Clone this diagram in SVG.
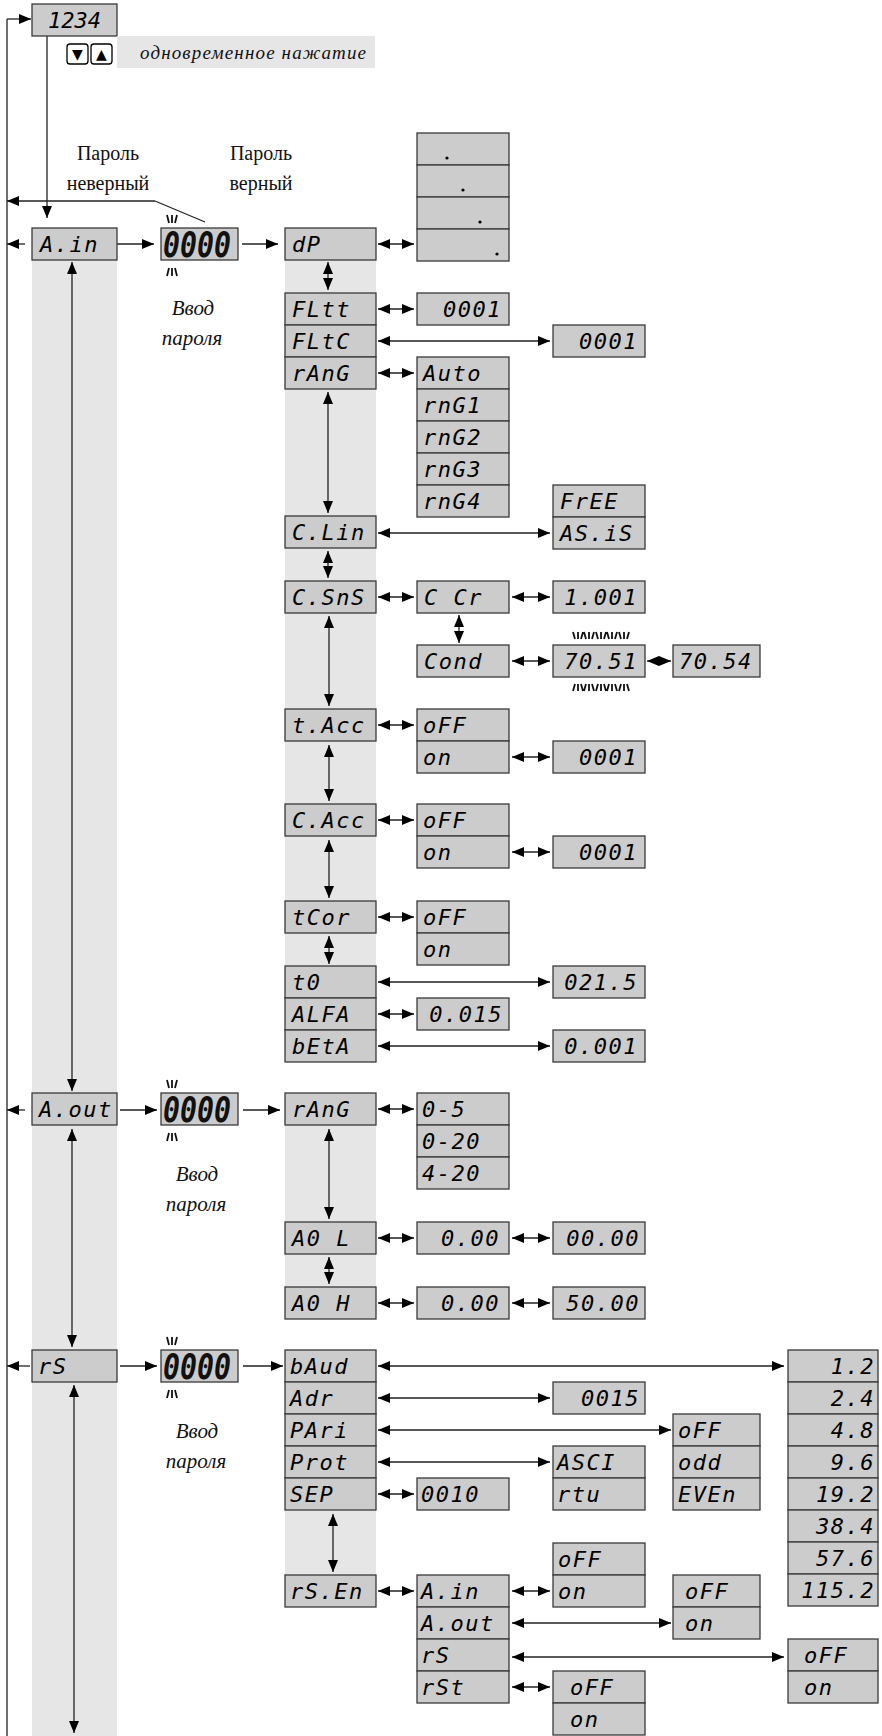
<svg xmlns="http://www.w3.org/2000/svg" width="882" height="1736" viewBox="0 0 882 1736">
<defs>
<marker id="a" viewBox="0 0 12 10" refX="12" refY="5" markerWidth="12" markerHeight="10" markerUnits="userSpaceOnUse" orient="auto-start-reverse"><path d="M0,0 L12,5 L0,10 z" fill="#000"/></marker>
</defs>
<style>
.b{fill:#cccccc;stroke:#3a3a3a;stroke-width:1.3}
.col{fill:#e6e6e6}
.t{font-family:"DejaVu Sans Mono",monospace;font-size:22px;font-style:oblique;letter-spacing:1.5px;fill:#000}
.r{text-anchor:end}
.pw{font-family:"DejaVu Sans Mono",monospace;font-size:36px;font-weight:bold;font-style:oblique;fill:#111}
.ln{stroke:#222;stroke-width:1.3;fill:none}
.fl{stroke:#111;stroke-width:1.8;fill:none}
.s{font-family:"Liberation Serif",serif;font-size:20px;fill:#111;text-anchor:middle}
.si{font-family:"Liberation Serif",serif;font-size:21px;font-style:italic;fill:#111;text-anchor:middle}
.k{fill:#fff;stroke:#000;stroke-width:1.3}
.kt{font-family:"DejaVu Sans",sans-serif;font-size:14px;fill:#000;text-anchor:middle}
.dot{fill:#000}
</style>
<rect width="882" height="1736" fill="#fff"/>
<g id="columns">
<rect class="col" x="32" y="228" width="85" height="1508"/>
<rect class="col" x="285" y="260" width="91" height="706"/>
<rect class="col" x="285" y="1125" width="91" height="162"/>
<rect class="col" x="285" y="1510" width="91" height="65"/>
</g>
<g id="connectors">
<line class="ln" x1="7" y1="1736" x2="7" y2="19"/>
<line class="ln" x1="7" y1="19" x2="31" y2="19" marker-end="url(#a)"/>
<line class="ln" x1="47" y1="36" x2="47" y2="218" marker-end="url(#a)"/>
<line class="ln" x1="155" y1="201" x2="7" y2="201" marker-end="url(#a)"/>
<line class="ln" x1="155" y1="201" x2="205" y2="222"/>
<line class="ln" x1="25" y1="244" x2="7" y2="244" marker-end="url(#a)"/>
<line class="ln" x1="117" y1="244" x2="154" y2="244" marker-end="url(#a)"/>
<line class="ln" x1="242" y1="244" x2="278" y2="244" marker-end="url(#a)"/>
<line class="ln" x1="72" y1="262" x2="72" y2="1091" marker-start="url(#a)" marker-end="url(#a)"/>
<line class="ln" x1="378" y1="244" x2="414" y2="244" marker-start="url(#a)" marker-end="url(#a)"/>
<line class="ln" x1="328" y1="262" x2="328" y2="290" marker-start="url(#a)" marker-end="url(#a)"/>
<line class="ln" x1="378" y1="309" x2="414" y2="309" marker-start="url(#a)" marker-end="url(#a)"/>
<line class="ln" x1="378" y1="341" x2="550" y2="341" marker-start="url(#a)" marker-end="url(#a)"/>
<line class="ln" x1="378" y1="373" x2="414" y2="373" marker-start="url(#a)" marker-end="url(#a)"/>
<line class="ln" x1="328" y1="392" x2="328" y2="513" marker-start="url(#a)" marker-end="url(#a)"/>
<line class="ln" x1="378" y1="533" x2="550" y2="533" marker-start="url(#a)" marker-end="url(#a)"/>
<line class="ln" x1="328" y1="551" x2="328" y2="578" marker-start="url(#a)" marker-end="url(#a)"/>
<line class="ln" x1="378" y1="597" x2="414" y2="597" marker-start="url(#a)" marker-end="url(#a)"/>
<line class="ln" x1="512" y1="597" x2="550" y2="597" marker-start="url(#a)" marker-end="url(#a)"/>
<line class="ln" x1="459" y1="615" x2="459" y2="643" marker-start="url(#a)" marker-end="url(#a)"/>
<line class="ln" x1="512" y1="661" x2="550" y2="661" marker-start="url(#a)" marker-end="url(#a)"/>
<line class="ln" x1="647" y1="661" x2="671" y2="661" marker-start="url(#a)" marker-end="url(#a)"/>
<line class="ln" x1="329" y1="616" x2="329" y2="706" marker-start="url(#a)" marker-end="url(#a)"/>
<line class="ln" x1="378" y1="725" x2="414" y2="725" marker-start="url(#a)" marker-end="url(#a)"/>
<line class="ln" x1="512" y1="757" x2="550" y2="757" marker-start="url(#a)" marker-end="url(#a)"/>
<line class="ln" x1="329" y1="745" x2="329" y2="801" marker-start="url(#a)" marker-end="url(#a)"/>
<line class="ln" x1="378" y1="820" x2="414" y2="820" marker-start="url(#a)" marker-end="url(#a)"/>
<line class="ln" x1="512" y1="852" x2="550" y2="852" marker-start="url(#a)" marker-end="url(#a)"/>
<line class="ln" x1="329" y1="840" x2="329" y2="898" marker-start="url(#a)" marker-end="url(#a)"/>
<line class="ln" x1="378" y1="917" x2="414" y2="917" marker-start="url(#a)" marker-end="url(#a)"/>
<line class="ln" x1="329" y1="936" x2="329" y2="964" marker-start="url(#a)" marker-end="url(#a)"/>
<line class="ln" x1="378" y1="982" x2="550" y2="982" marker-start="url(#a)" marker-end="url(#a)"/>
<line class="ln" x1="378" y1="1014" x2="414" y2="1014" marker-start="url(#a)" marker-end="url(#a)"/>
<line class="ln" x1="378" y1="1046" x2="550" y2="1046" marker-start="url(#a)" marker-end="url(#a)"/>
<line class="ln" x1="25" y1="1110" x2="7" y2="1110" marker-end="url(#a)"/>
<line class="ln" x1="120" y1="1110" x2="157" y2="1110" marker-end="url(#a)"/>
<line class="ln" x1="243" y1="1110" x2="280" y2="1110" marker-end="url(#a)"/>
<line class="ln" x1="72" y1="1129" x2="72" y2="1347" marker-start="url(#a)" marker-end="url(#a)"/>
<line class="ln" x1="378" y1="1109" x2="414" y2="1109" marker-start="url(#a)" marker-end="url(#a)"/>
<line class="ln" x1="329" y1="1129" x2="329" y2="1219" marker-start="url(#a)" marker-end="url(#a)"/>
<line class="ln" x1="378" y1="1238" x2="414" y2="1238" marker-start="url(#a)" marker-end="url(#a)"/>
<line class="ln" x1="512" y1="1238" x2="550" y2="1238" marker-start="url(#a)" marker-end="url(#a)"/>
<line class="ln" x1="329" y1="1257" x2="329" y2="1284" marker-start="url(#a)" marker-end="url(#a)"/>
<line class="ln" x1="378" y1="1303" x2="414" y2="1303" marker-start="url(#a)" marker-end="url(#a)"/>
<line class="ln" x1="512" y1="1303" x2="550" y2="1303" marker-start="url(#a)" marker-end="url(#a)"/>
<line class="ln" x1="30" y1="1366" x2="7" y2="1366" marker-end="url(#a)"/>
<line class="ln" x1="120" y1="1366" x2="157" y2="1366" marker-end="url(#a)"/>
<line class="ln" x1="243" y1="1366" x2="283" y2="1366" marker-end="url(#a)"/>
<line class="ln" x1="74" y1="1385" x2="74" y2="1733" marker-start="url(#a)" marker-end="url(#a)"/>
<line class="ln" x1="378" y1="1366" x2="784" y2="1366" marker-start="url(#a)" marker-end="url(#a)"/>
<line class="ln" x1="378" y1="1398" x2="550" y2="1398" marker-start="url(#a)" marker-end="url(#a)"/>
<line class="ln" x1="378" y1="1430" x2="671" y2="1430" marker-start="url(#a)" marker-end="url(#a)"/>
<line class="ln" x1="378" y1="1462" x2="550" y2="1462" marker-start="url(#a)" marker-end="url(#a)"/>
<line class="ln" x1="378" y1="1494" x2="414" y2="1494" marker-start="url(#a)" marker-end="url(#a)"/>
<line class="ln" x1="333" y1="1514" x2="333" y2="1572" marker-start="url(#a)" marker-end="url(#a)"/>
<line class="ln" x1="378" y1="1591" x2="414" y2="1591" marker-start="url(#a)" marker-end="url(#a)"/>
<line class="ln" x1="512" y1="1591" x2="550" y2="1591" marker-start="url(#a)" marker-end="url(#a)"/>
<line class="ln" x1="512" y1="1623" x2="671" y2="1623" marker-start="url(#a)" marker-end="url(#a)"/>
<line class="ln" x1="512" y1="1657" x2="784" y2="1657" marker-start="url(#a)" marker-end="url(#a)"/>
<line class="ln" x1="512" y1="1687" x2="550" y2="1687" marker-start="url(#a)" marker-end="url(#a)"/>
</g>
<g id="flash">
<path class="fl" d="M167,215 L169,223 M172,215 V223 M177,215 L175,223 M169,268 L167,276 M172,268 V276 M175,268 L177,276"/>
<path class="fl" d="M167,1080 L169,1088 M172,1080 V1088 M177,1080 L175,1088 M169,1133 L167,1141 M172,1133 V1141 M175,1133 L177,1141"/>
<path class="fl" d="M167,1337 L169,1345 M172,1337 V1345 M177,1337 L175,1345 M169,1390 L167,1398 M172,1390 V1398 M175,1390 L177,1398"/>
<path class="fl" d="M573,632 L575,639 M578,632 V639 M583,632 L581,639 M584,632 L586,639 M589,632 V639 M594,632 L592,639 M596,632 L598,639 M601,632 V639 M606,632 L604,639 M607,632 L609,639 M612,632 V639 M617,632 L615,639 M619,632 L621,639 M624,632 V639 M629,632 L627,639"/>
<path class="fl" d="M575,684 L573,691 M578,684 V691 M581,684 L583,691 M586,684 L584,691 M589,684 V691 M592,684 L594,691 M598,684 L596,691 M601,684 V691 M604,684 L606,691 M609,684 L607,691 M612,684 V691 M615,684 L617,691 M621,684 L619,691 M624,684 V691 M627,684 L629,691"/>
</g>
<g id="n1234"><rect class="b" x="32" y="4" width="85" height="32"/><text class="t" style="letter-spacing:0" x="48" y="28">1234</text></g>
<g id="keys"><rect class="k" x="67" y="44" width="21" height="20" rx="3"/><text class="kt" x="77.5" y="59">▼</text><rect class="k" x="91" y="44" width="21" height="20" rx="3"/><text class="kt" x="101.5" y="59">▲</text></g>
<g id="hint"><rect class="col" x="117" y="36" width="258" height="32"/><text class="si" style="font-size:19px" x="253" y="59" textLength="226" lengthAdjust="spacing">одновременное нажатие</text></g>
<g id="lbl-wrong"><text class="s" x="108" y="160">Пароль</text><text class="s" x="108" y="190">неверный</text></g>
<g id="lbl-right"><text class="s" x="261" y="160">Пароль</text><text class="s" x="261" y="190">верный</text></g>

<g id="ain"><rect class="b" x="32" y="228" width="85" height="32"/><text class="t" x="40" y="252">A.in</text></g>
<g id="pw1"><rect class="b" x="161" y="228" width="77" height="32"/><text class="pw" x="163" y="257" textLength="68" lengthAdjust="spacingAndGlyphs">0000</text></g>
<g id="enter1"><text class="si" x="193" y="315">Ввод</text><text class="si" x="192" y="345">пароля</text></g>
<g id="dP"><rect class="b" x="285" y="228" width="91" height="32"/><text class="t" x="292" y="252">dP</text></g>
<g id="dp-list"><rect class="b" x="417" y="133" width="92" height="32"/><rect class="b" x="417" y="165" width="92" height="32"/><rect class="b" x="417" y="197" width="92" height="32"/><rect class="b" x="417" y="229" width="92" height="32"/><circle class="dot" cx="447" cy="158" r="1.6"/><circle class="dot" cx="463" cy="190" r="1.6"/><circle class="dot" cx="480" cy="222" r="1.6"/><circle class="dot" cx="497" cy="254" r="1.6"/></g>
<g id="fltt"><rect class="b" x="285" y="293" width="91" height="32"/><text class="t" x="292" y="317">FLtt</text></g>
<g id="fltc"><rect class="b" x="285" y="325" width="91" height="32"/><text class="t" x="292" y="349">FLtC</text></g>
<g id="rang"><rect class="b" x="285" y="357" width="91" height="32"/><text class="t" x="292" y="381">rAnG</text></g>
<g id="fltt-val"><rect class="b" x="417" y="293" width="92" height="32"/><text class="t r" x="502" y="317">0001</text></g>
<g id="fltc-val"><rect class="b" x="553" y="325" width="92" height="32"/><text class="t r" x="638" y="349">0001</text></g>
<g id="rang-list"><rect class="b" x="417" y="357" width="92" height="32"/><text class="t" x="423" y="381">Auto</text><rect class="b" x="417" y="389" width="92" height="32"/><text class="t" x="423" y="413">rnG1</text><rect class="b" x="417" y="421" width="92" height="32"/><text class="t" x="423" y="445">rnG2</text><rect class="b" x="417" y="453" width="92" height="32"/><text class="t" x="423" y="477">rnG3</text><rect class="b" x="417" y="485" width="92" height="32"/><text class="t" x="423" y="509">rnG4</text></g>
<g id="clin"><rect class="b" x="285" y="516" width="91" height="32"/><text class="t" x="292" y="540">C.Lin</text></g>
<g id="clin-list"><rect class="b" x="553" y="485" width="92" height="32"/><text class="t" x="560" y="509">FrEE</text><rect class="b" x="553" y="517" width="92" height="32"/><text class="t" x="560" y="541">AS.iS</text></g>
<g id="csns"><rect class="b" x="285" y="581" width="91" height="32"/><text class="t" x="292" y="605">C.SnS</text></g>
<g id="ccr"><rect class="b" x="417" y="581" width="92" height="32"/><text class="t" x="424" y="605">C Cr</text></g>
<g id="ccr-val"><rect class="b" x="553" y="581" width="92" height="32"/><text class="t r" x="638" y="605">1.001</text></g>
<g id="cond"><rect class="b" x="417" y="645" width="92" height="32"/><text class="t" x="424" y="669">Cond</text></g>
<g id="cond-val"><rect class="b" x="553" y="645" width="92" height="32"/><text class="t r" x="638" y="669">70.51</text></g>
<g id="cond-new"><rect class="b" x="673" y="645" width="87" height="32"/><text class="t" x="679" y="669">70.54</text></g>
<g id="tacc"><rect class="b" x="285" y="709" width="91" height="32"/><text class="t" x="292" y="733">t.Acc</text></g>
<g id="tacc-list"><rect class="b" x="417" y="709" width="92" height="32"/><text class="t" x="423" y="733">oFF</text><rect class="b" x="417" y="741" width="92" height="32"/><text class="t" x="423" y="765">on</text></g>
<g id="tacc-val"><rect class="b" x="553" y="741" width="92" height="32"/><text class="t r" x="638" y="765">0001</text></g>
<g id="cacc"><rect class="b" x="285" y="804" width="91" height="32"/><text class="t" x="292" y="828">C.Acc</text></g>
<g id="cacc-list"><rect class="b" x="417" y="804" width="92" height="32"/><text class="t" x="423" y="828">oFF</text><rect class="b" x="417" y="836" width="92" height="32"/><text class="t" x="423" y="860">on</text></g>
<g id="cacc-val"><rect class="b" x="553" y="836" width="92" height="32"/><text class="t r" x="638" y="860">0001</text></g>
<g id="tcor"><rect class="b" x="285" y="901" width="91" height="32"/><text class="t" x="292" y="925">tCor</text></g>
<g id="tcor-list"><rect class="b" x="417" y="901" width="92" height="32"/><text class="t" x="423" y="925">oFF</text><rect class="b" x="417" y="933" width="92" height="32"/><text class="t" x="423" y="957">on</text></g>
<g id="t0"><rect class="b" x="285" y="966" width="91" height="32"/><text class="t" x="292" y="990">t0</text></g>
<g id="alfa"><rect class="b" x="285" y="998" width="91" height="32"/><text class="t" x="292" y="1022">ALFA</text></g>
<g id="beta"><rect class="b" x="285" y="1030" width="91" height="32"/><text class="t" x="292" y="1054">bEtA</text></g>
<g id="t0-val"><rect class="b" x="553" y="966" width="92" height="32"/><text class="t r" x="638" y="990">021.5</text></g>
<g id="alfa-val"><rect class="b" x="417" y="998" width="92" height="32"/><text class="t r" x="503" y="1022">0.015</text></g>
<g id="beta-val"><rect class="b" x="553" y="1030" width="92" height="32"/><text class="t r" x="638" y="1054">0.001</text></g>

<g id="aout"><rect class="b" x="32" y="1093" width="85" height="32"/><text class="t" x="39" y="1117">A.out</text></g>
<g id="pw2"><rect class="b" x="161" y="1093" width="77" height="32"/><text class="pw" x="163" y="1122" textLength="68" lengthAdjust="spacingAndGlyphs">0000</text></g>
<g id="enter2"><text class="si" x="197" y="1181">Ввод</text><text class="si" x="196" y="1211">пароля</text></g>
<g id="rang2"><rect class="b" x="285" y="1093" width="91" height="32"/><text class="t" x="292" y="1117">rAnG</text></g>
<g id="rang2-list"><rect class="b" x="417" y="1093" width="92" height="32"/><text class="t" x="422" y="1117">0-5</text><rect class="b" x="417" y="1125" width="92" height="32"/><text class="t" x="422" y="1149">0-20</text><rect class="b" x="417" y="1157" width="92" height="32"/><text class="t" x="422" y="1181">4-20</text></g>
<g id="aol"><rect class="b" x="285" y="1222" width="91" height="32"/><text class="t" x="292" y="1246">A0 L</text></g>
<g id="aol-v1"><rect class="b" x="417" y="1222" width="92" height="32"/><text class="t r" x="500" y="1246">0.00</text></g>
<g id="aol-v2"><rect class="b" x="553" y="1222" width="92" height="32"/><text class="t r" x="640" y="1246">00.00</text></g>
<g id="aoh"><rect class="b" x="285" y="1287" width="91" height="32"/><text class="t" x="292" y="1311">A0 H</text></g>
<g id="aoh-v1"><rect class="b" x="417" y="1287" width="92" height="32"/><text class="t r" x="500" y="1311">0.00</text></g>
<g id="aoh-v2"><rect class="b" x="553" y="1287" width="92" height="32"/><text class="t r" x="640" y="1311">50.00</text></g>

<g id="rs"><rect class="b" x="32" y="1350" width="85" height="32"/><text class="t" x="38" y="1374">rS</text></g>
<g id="pw3"><rect class="b" x="161" y="1350" width="77" height="32"/><text class="pw" x="163" y="1379" textLength="68" lengthAdjust="spacingAndGlyphs">0000</text></g>
<g id="enter3"><text class="si" x="197" y="1438">Ввод</text><text class="si" x="196" y="1468">пароля</text></g>
<g id="baud"><rect class="b" x="285" y="1350" width="91" height="32"/><text class="t" x="290" y="1374">bAud</text></g>
<g id="adr"><rect class="b" x="285" y="1382" width="91" height="32"/><text class="t" x="290" y="1406">Adr</text></g>
<g id="pari"><rect class="b" x="285" y="1414" width="91" height="32"/><text class="t" x="290" y="1438">PAri</text></g>
<g id="prot"><rect class="b" x="285" y="1446" width="91" height="32"/><text class="t" x="290" y="1470">Prot</text></g>
<g id="sep"><rect class="b" x="285" y="1478" width="91" height="32"/><text class="t" x="290" y="1502">SEP</text></g>
<g id="baud-list">
<rect class="b" x="788" y="1350" width="90" height="32"/><text class="t r" x="875" y="1374">1.2</text>
<rect class="b" x="788" y="1382" width="90" height="32"/><text class="t r" x="875" y="1406">2.4</text>
<rect class="b" x="788" y="1414" width="90" height="32"/><text class="t r" x="875" y="1438">4.8</text>
<rect class="b" x="788" y="1446" width="90" height="32"/><text class="t r" x="875" y="1470">9.6</text>
<rect class="b" x="788" y="1478" width="90" height="32"/><text class="t r" x="875" y="1502">19.2</text>
<rect class="b" x="788" y="1510" width="90" height="32"/><text class="t r" x="875" y="1534">38.4</text>
<rect class="b" x="788" y="1542" width="90" height="32"/><text class="t r" x="875" y="1566">57.6</text>
<rect class="b" x="788" y="1574" width="90" height="32"/><text class="t r" x="875" y="1598">115.2</text>
</g>
<g id="adr-val"><rect class="b" x="553" y="1382" width="92" height="32"/><text class="t r" x="640" y="1406">0015</text></g>
<g id="pari-list"><rect class="b" x="673" y="1414" width="87" height="32"/><text class="t" x="678" y="1438">oFF</text><rect class="b" x="673" y="1446" width="87" height="32"/><text class="t" x="678" y="1470">odd</text><rect class="b" x="673" y="1478" width="87" height="32"/><text class="t" x="678" y="1502">EVEn</text></g>
<g id="prot-list"><rect class="b" x="553" y="1446" width="92" height="32"/><text class="t" x="557" y="1470">ASCI</text><rect class="b" x="553" y="1478" width="92" height="32"/><text class="t" x="557" y="1502">rtu</text></g>
<g id="sep-val"><rect class="b" x="417" y="1478" width="92" height="32"/><text class="t" x="421" y="1502">0010</text></g>
<g id="rsen"><rect class="b" x="285" y="1575" width="91" height="32"/><text class="t" x="290" y="1599">rS.En</text></g>
<g id="rsen-list"><rect class="b" x="417" y="1575" width="92" height="32"/><text class="t" x="421" y="1599">A.in</text><rect class="b" x="417" y="1607" width="92" height="32"/><text class="t" x="421" y="1631">A.out</text><rect class="b" x="417" y="1639" width="92" height="32"/><text class="t" x="421" y="1663">rS</text><rect class="b" x="417" y="1671" width="92" height="32"/><text class="t" x="421" y="1695">rSt</text></g>
<g id="ain-en"><rect class="b" x="553" y="1543" width="92" height="32"/><text class="t" x="558" y="1567">oFF</text><rect class="b" x="553" y="1575" width="92" height="32"/><text class="t" x="558" y="1599">on</text></g>
<g id="aout-en"><rect class="b" x="673" y="1575" width="87" height="32"/><text class="t" x="685" y="1599">oFF</text><rect class="b" x="673" y="1607" width="87" height="32"/><text class="t" x="685" y="1631">on</text></g>
<g id="rs-en"><rect class="b" x="788" y="1639" width="90" height="32"/><text class="t" x="804" y="1663">oFF</text><rect class="b" x="788" y="1671" width="90" height="32"/><text class="t" x="804" y="1695">on</text></g>
<g id="rst-en"><rect class="b" x="553" y="1671" width="92" height="32"/><text class="t" x="570" y="1695">oFF</text><rect class="b" x="553" y="1703" width="92" height="32"/><text class="t" x="570" y="1727">on</text></g>
</svg>
